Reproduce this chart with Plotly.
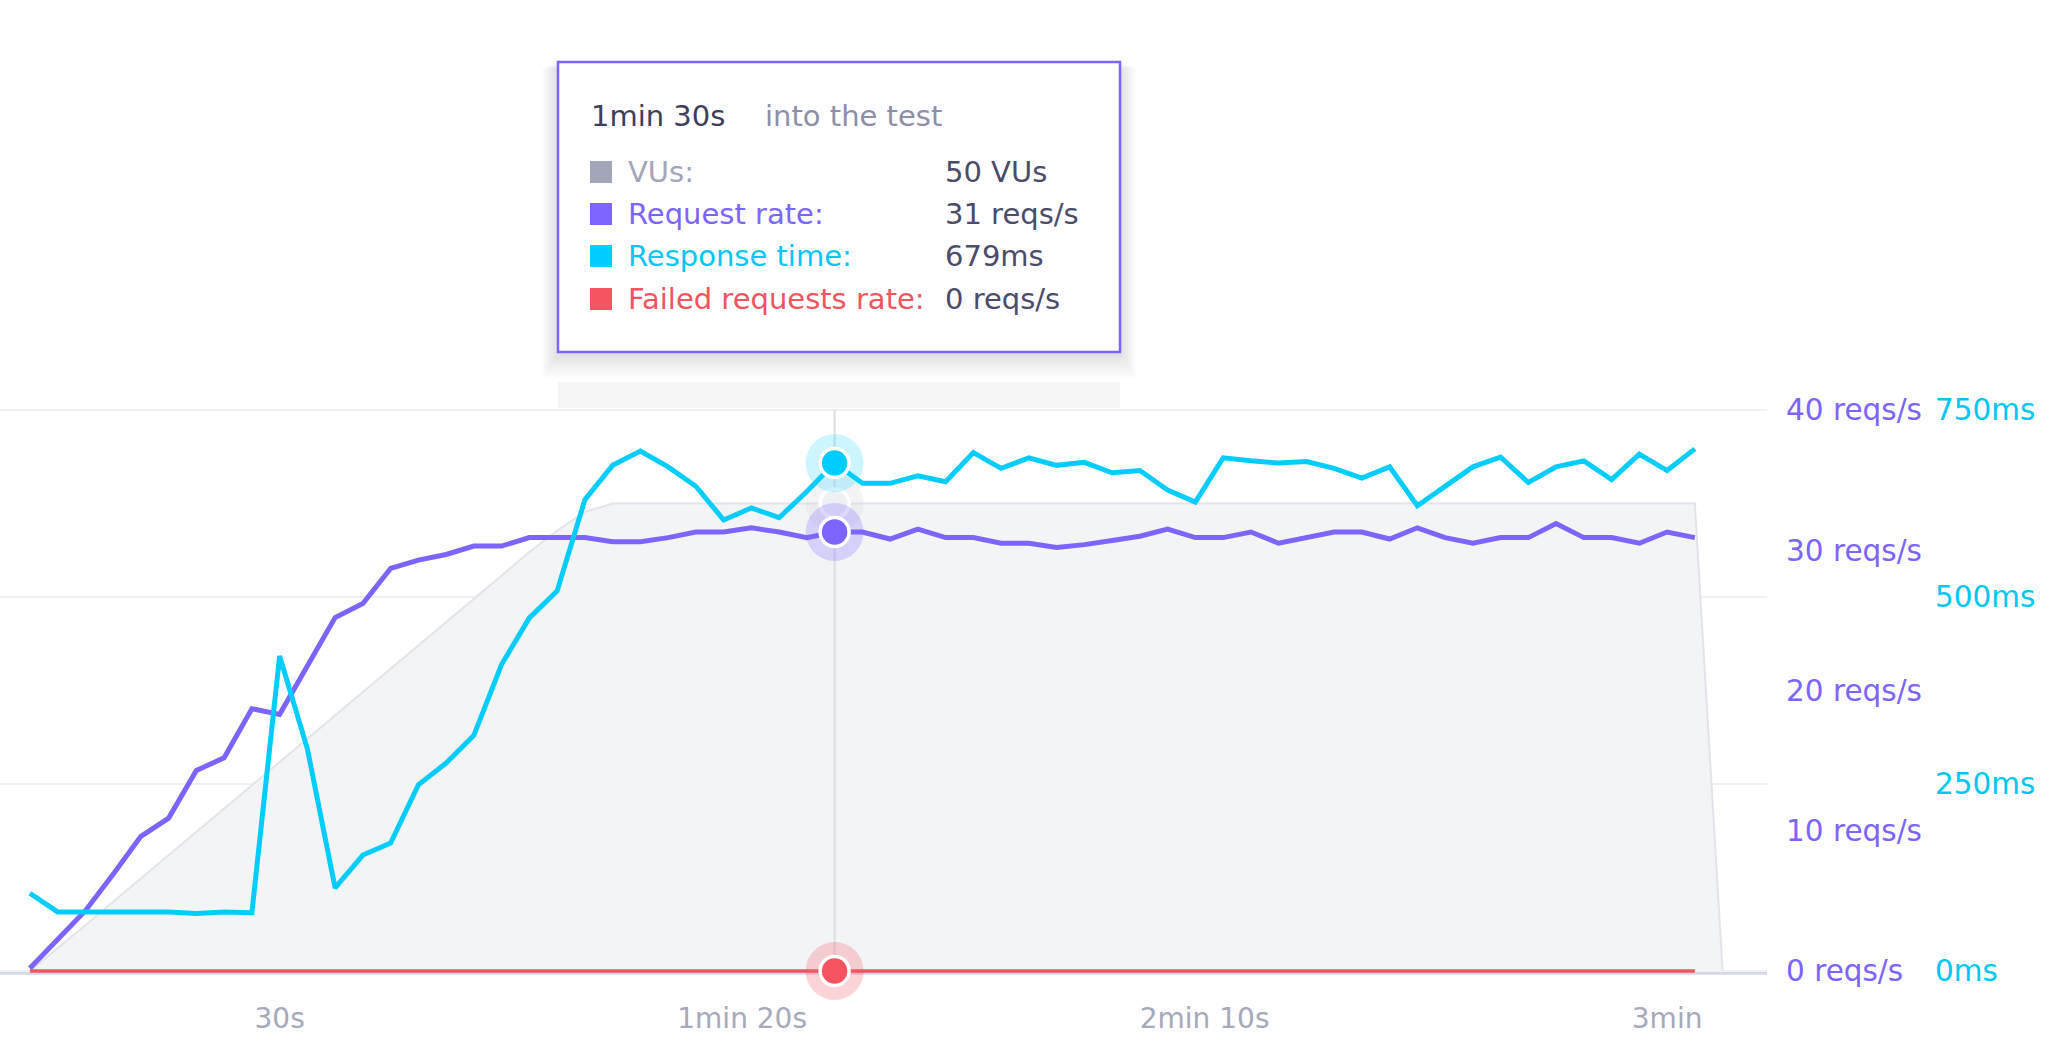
import plotly.graph_objects as go

# ---------------- data ----------------
time_s = [3, 6, 9, 12, 15, 18, 21, 24, 27, 30, 33, 36, 39, 42, 45, 48, 51, 54, 57, 60,
          63, 66, 69, 72, 75, 78, 81, 84, 87, 90, 93, 96, 99, 102, 105, 108, 111, 114, 117, 120,
          123, 126, 129, 132, 135, 138, 141, 144, 147, 150, 153, 156, 159, 162, 165, 168, 171, 174, 177, 180,
          183]
vu_time_s = [3, 6, 9, 12, 15, 18, 21, 24, 27, 30, 33, 36, 39, 42, 45, 48, 51, 54, 57, 60,
             63, 66, 69, 72, 75, 78, 81, 84, 87, 90, 93, 96, 99, 102, 105, 108, 111, 114, 117, 120,
             123, 126, 129, 132, 135, 138, 141, 144, 147, 150, 153, 156, 159, 162, 165, 168, 171, 174, 177, 180,
             183, 186]
vus = [0, 2.4, 4.9, 7.4, 9.9, 12.3, 14.8, 17.3, 19.8, 22.3, 24.8, 27.3, 29.8, 32.3, 34.8, 37.3,
       39.8, 42.3, 44.8, 47.1, 49.1, 50, 50, 50, 50, 50, 50, 50, 50, 50,
       50, 50, 50, 50, 50, 50, 50, 50, 50, 50,
       50, 50, 50, 50, 50, 50, 50, 50, 50, 50, 50, 50, 50, 50, 50, 50, 50, 50, 50, 50,
       50, 0]
request_rate = [0.2, 2.3, 4.3, 6.9, 9.6, 10.9, 14.3, 15.2, 18.7, 18.3,
                21.7, 25.2, 26.2, 28.7, 29.3, 29.7, 30.3, 30.3, 30.9, 30.9,
                30.9, 30.6, 30.6, 30.9, 31.3, 31.3, 31.6, 31.3, 30.9, 31.3,
                31.3, 30.8, 31.5, 30.9, 30.9, 30.5, 30.5, 30.2, 30.4, 30.7,
                31.0, 31.5, 30.9, 30.9, 31.3, 30.5, 30.9, 31.3, 31.3, 30.8,
                31.6, 30.9, 30.5, 30.9, 30.9, 31.9, 30.9, 30.9, 30.5, 31.3,
                30.9]
response_time = [104, 79, 79, 79, 79, 79, 77, 79, 78, 421,
                 297, 111, 155, 171, 249, 278, 315, 410, 472, 508,
                 630, 676, 695, 674, 648, 603, 619, 606, 641, 679,
                 652, 652, 662, 654, 693, 672, 686, 676, 680, 666,
                 669, 643, 627, 686, 682, 679, 681, 672, 659, 674,
                 622, 648, 674, 687, 653, 674, 682, 657, 691, 669,
                 698]
failed_rate = [0, 0, 0, 0, 0, 0, 0, 0, 0, 0, 0, 0, 0, 0, 0, 0, 0, 0, 0, 0,
               0, 0, 0, 0, 0, 0, 0, 0, 0, 0, 0, 0, 0, 0, 0, 0, 0, 0, 0, 0,
               0, 0, 0, 0, 0, 0, 0, 0, 0, 0, 0, 0, 0, 0, 0, 0, 0, 0, 0, 0,
               0]

x_tick_vals = [30, 80, 130, 180]
x_tick_text = ["30s", "1min 20s", "2min 10s", "3min"]
req_tick_vals = [0, 10, 20, 30, 40]
req_tick_text = ["0 reqs/s", "10 reqs/s", "20 reqs/s", "30 reqs/s", "40 reqs/s"]
ms_tick_vals = [0, 250, 500, 750]
ms_tick_text = ["0ms", "250ms", "500ms", "750ms"]
hover_index = 29

# ---------------- styling ----------------
W, H = 2058, 1057
FONT = "DejaVu Sans"
PURPLE = "#7d64ff"
CYAN = "#00cdff"
RED = "#f3545f"
GRAY_SQ = "#a3a5b8"
DARK = "#3c3e5c"
TICK_GRAY = "#a6a9ba"


def px(x):
    return x / W


def py(y):
    return 1 - y / H


MS_RANGE = [-8, 760]
REQ_RANGE = [v * 40 / 750 for v in MS_RANGE]
VU_RANGE = [v * 0.08 for v in MS_RANGE]
Y_DOMAIN = [py(977.0), py(402.5)]
X_DOMAIN = [0, px(1767)]


def fmt_time(s):
    m, sec = divmod(int(s), 60)
    parts = []
    if m:
        parts.append(f"{m}min")
    if sec:
        parts.append(f"{sec}s")
    return " ".join(parts)


fig = go.Figure()
hx = time_s[hover_index]

# ---- base axis (y): VUs area + crosshair ----
fig.add_trace(go.Scatter(x=vu_time_s, y=vus, yaxis="y", mode="lines",
                         line=dict(color="#e2e4e9", width=2),
                         fill="tozeroy", fillcolor="#f3f4f6", hoverinfo="skip"))
fig.add_trace(go.Scatter(x=[hx, hx], y=[0, VU_RANGE[1] * 750 / 760], yaxis="y", mode="lines",
                         line=dict(color="#dcdde3", width=2), hoverinfo="skip"))


def hover_marker(yval, axis, color, halo, edge="white"):
    fig.add_trace(go.Scatter(x=[hx], y=[yval], yaxis=axis, mode="markers",
                             marker=dict(size=58, color=halo, line=dict(width=0)),
                             hoverinfo="skip", cliponaxis=False))
    fig.add_trace(go.Scatter(x=[hx], y=[yval], yaxis=axis, mode="markers",
                             marker=dict(size=29, color=color, line=dict(width=3.5, color=edge)),
                             hoverinfo="skip", cliponaxis=False))


hover_marker(vus[hover_index], "y", "#eef0f3", "rgba(215,217,226,0.28)", edge="#ffffff")

# ---- y2: request rates ----
fig.add_trace(go.Scatter(x=time_s, y=failed_rate, yaxis="y2", mode="lines",
                         line=dict(color=RED, width=3.5), hoverinfo="skip"))
fig.add_trace(go.Scatter(x=time_s, y=request_rate, yaxis="y2", mode="lines",
                         line=dict(color=PURPLE, width=5), hoverinfo="skip"))
hover_marker(request_rate[hover_index], "y2", PURPLE, "rgba(125,100,255,0.25)")
hover_marker(failed_rate[hover_index], "y2", RED, "rgba(243,84,95,0.25)")

# ---- y3: response time ----
fig.add_trace(go.Scatter(x=time_s, y=response_time, yaxis="y3", mode="lines",
                         line=dict(color=CYAN, width=5), hoverinfo="skip"))
hover_marker(response_time[hover_index], "y3", CYAN, "rgba(0,205,255,0.2)")

shapes = []
# baseline
shapes.append(dict(type="line", xref="paper", yref="y3", x0=0, x1=X_DOMAIN[1], y0=-3, y1=-3,
                   line=dict(color="#d3d8e6", width=3), layer="below"))
# light band above plot area under tooltip
shapes.append(dict(type="rect", xref="paper", yref="paper", x0=px(558), x1=px(1120),
                   y0=py(408), y1=py(382), fillcolor="#f5f5f6", line=dict(width=0), layer="below"))
# tooltip shadow
for k in range(1, 11):
    shapes.append(dict(type="rect", xref="paper", yref="paper",
                       x0=px(558 - 1.6 * k), x1=px(1120 + 1.6 * k),
                       y0=py(352 + 2.6 * k), y1=py(62 + 0.6 * k),
                       fillcolor="rgba(40,40,70,0.016)", line=dict(width=0)))
# tooltip box
shapes.append(dict(type="rect", xref="paper", yref="paper", x0=px(558), x1=px(1120),
                   y0=py(352), y1=py(62), fillcolor="white", line=dict(color=PURPLE, width=2.5)))

rows = [
    ("VUs:", GRAY_SQ, "#a3a5b8", f"{round(vus[hover_index])} VUs"),
    ("Request rate:", PURPLE, PURPLE, f"{round(request_rate[hover_index])} reqs/s"),
    ("Response time:", CYAN, "#00c6f5", f"{round(response_time[hover_index])}ms"),
    ("Failed requests rate:", RED, RED, f"{round(failed_rate[hover_index])} reqs/s"),
]
row_y = [172, 214, 256, 299]
TT = 29
annotations = [
    dict(text=fmt_time(hx), x=px(589), y=py(116), xref="paper", yref="paper",
         xanchor="left", yanchor="middle", showarrow=False,
         font=dict(family=FONT, size=TT, color=DARK)),
    dict(text="into the test", x=px(763), y=py(116), xref="paper", yref="paper",
         xanchor="left", yanchor="middle", showarrow=False,
         font=dict(family=FONT, size=TT, color="#8d8fa8")),
]
for (label, sq, lc, val), yy in zip(rows, row_y):
    shapes.append(dict(type="rect", xref="paper", yref="paper", x0=px(590), x1=px(612),
                       y0=py(yy + 11), y1=py(yy - 11), fillcolor=sq, line=dict(width=0)))
    annotations.append(dict(text=label, x=px(626), y=py(yy), xref="paper", yref="paper",
                            xanchor="left", yanchor="middle", showarrow=False,
                            font=dict(family=FONT, size=TT, color=lc)))
    annotations.append(dict(text=val, x=px(943), y=py(yy), xref="paper", yref="paper",
                            xanchor="left", yanchor="middle", showarrow=False,
                            font=dict(family=FONT, size=TT, color="#4a4c6a")))

fig.update_layout(
    width=W, height=H, margin=dict(l=0, r=0, t=0, b=0),
    paper_bgcolor="white", plot_bgcolor="white", showlegend=False, hovermode=False,
    xaxis=dict(domain=X_DOMAIN, range=[-0.23, 190.8], tickvals=x_tick_vals, ticktext=x_tick_text,
               showgrid=False, zeroline=False, showline=False, ticks="", ticklabelstandoff=22,
               tickfont=dict(family=FONT, size=28, color=TICK_GRAY), automargin=False,
               anchor="y"),
    yaxis=dict(domain=Y_DOMAIN, range=VU_RANGE, anchor="x", showticklabels=False,
               showgrid=False, zeroline=False, showline=False, ticks="", automargin=False),
    yaxis2=dict(domain=Y_DOMAIN, range=REQ_RANGE, overlaying="y", side="right", anchor="x",
                tickvals=req_tick_vals, ticktext=req_tick_text, showgrid=False, zeroline=False,
                showline=False, ticks="", ticklabelstandoff=18,
                tickfont=dict(family=FONT, size=29.5, color=PURPLE), automargin=False),
    yaxis3=dict(domain=Y_DOMAIN, range=MS_RANGE, overlaying="y", side="right", anchor="free",
                position=px(1934), tickvals=ms_tick_vals, ticktext=ms_tick_text,
                showgrid=True, gridcolor="#eef0f3", gridwidth=2, zeroline=False,
                showline=False, ticks="", tickfont=dict(family=FONT, size=29.5, color="#00c6f2"),
                automargin=False),
    shapes=shapes, annotations=annotations,
)

fig.write_html("out.html")
